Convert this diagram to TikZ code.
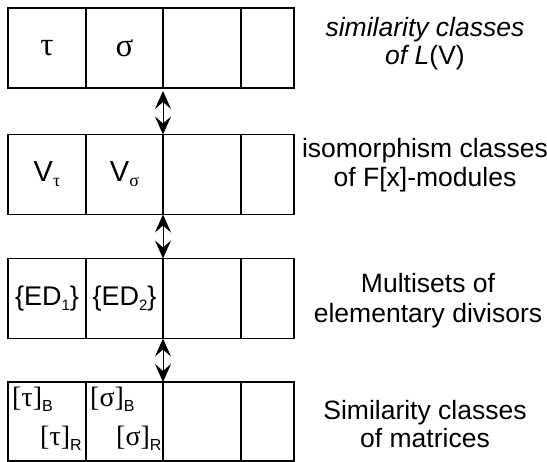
\documentclass[tikz,border=0pt]{standalone}
\usepackage{fontspec}
\setmainfont{Liberation Sans}
\newfontfamily\serifg{Liberation Serif}
\usetikzlibrary{arrows.meta}
\tikzset{
  cell/.style={draw, line width=1.1pt, minimum height=80pt, inner sep=0pt, outer sep=0pt, font=\fontsize{26}{30}\selectfont},
  wA/.style={minimum width=78pt},
  wB/.style={minimum width=77pt},
  wC/.style={minimum width=78pt},
  wD/.style={minimum width=53pt},
  lbl/.style={anchor=base, inner sep=0pt, font=\fontsize{26.5}{30}\selectfont},
  mtx/.style={anchor=base west, inner sep=0pt, font=\fontsize{28}{28}\selectfont},
  biarrow/.style={line width=1pt, {Stealth[length=18pt,width=16pt,inset=7pt]}-{Stealth[length=18pt,width=16pt,inset=7pt]}}
}
\newcommand{\subsc}[2]{{\fontsize{#1}{#1}\selectfont\raisebox{-5pt}{#2}}}
\begin{document}
\begin{tikzpicture}[x=1pt,y=-1pt]
\useasboundingbox (0,0) rectangle (547,462);
% row 1
\node[cell,wA,font=\fontsize{33}{33}\selectfont\serifg] (a1) at (47,48) {τ};
\node[cell,wB,font=\fontsize{33}{33}\selectfont\serifg] (a2) at (124.5,48) {σ};
\node[cell,wC] (a3) at (202,48) {};
\node[cell,wD] (a4) at (267.5,48) {};
% row 2
\node[cell,wA,font=\fontsize{29}{30}\selectfont] (b1) at (47,174.5) {V\subsc{18}{\serifg τ}};
\node[cell,wB,font=\fontsize{29}{30}\selectfont] (b2) at (124.5,174.5) {V\subsc{18}{\serifg σ}};
\node[cell,wC] (b3) at (202,174.5) {};
\node[cell,wD] (b4) at (267.5,174.5) {};
% row 3
\node[cell,wA,font=\fontsize{27}{30}\selectfont] (c1) at (47,298.5) {\{ED\subsc{15}{1}\}};
\node[cell,wB,font=\fontsize{27}{30}\selectfont] (c2) at (124.5,298.5) {\{ED\subsc{15}{2}\}};
\node[cell,wC] (c3) at (202,298.5) {};
\node[cell,wD] (c4) at (267.5,298.5) {};
% row 4
\node[cell,wA,minimum height=79pt] (d1) at (47,421.5) {};
\node[cell,wB,minimum height=79pt] (d2) at (124.5,421.5) {};
\node[cell,wC,minimum height=79pt] (d3) at (202,421.5) {};
\node[cell,wD,minimum height=79pt] (d4) at (267.5,421.5) {};
\node[mtx] (tb) at (12,407) {{\serifg [τ]}\subsc{16}{B}};
\node[mtx] (tr) at (40,446) {{\serifg [τ]}\subsc{16}{R}};
\node[mtx] (sb) at (90,407) {{\serifg [σ]}\subsc{16}{B}};
\node[mtx] (sr) at (116,446) {{\serifg [σ]}\subsc{16}{R}};
% arrows
\draw[biarrow] ([yshift=-3pt]a3.south west) -- (b3.north west);
\draw[biarrow] (b3.south west) -- (c3.north west);
\draw[biarrow] (c3.south west) -- (d3.north west);
% labels
\node[lbl] (l1a) at (425,37) {\itshape similarity classes};
\node[lbl] (l1b) at (425,65) {\itshape of L\upshape(V)};
\node[lbl] (l2a) at (425,158) {isomorphism classes};
\node[lbl] (l2b) at (425,187) {of F[x]-modules};
\node[lbl] (l3a) at (428,293) {Multisets of};
\node[lbl] (l3b) at (428,323) {elementary divisors};
\node[lbl] (l4a) at (425,420) {Similarity classes};
\node[lbl] (l4b) at (425,448) {of matrices};
\end{tikzpicture}
\end{document}
